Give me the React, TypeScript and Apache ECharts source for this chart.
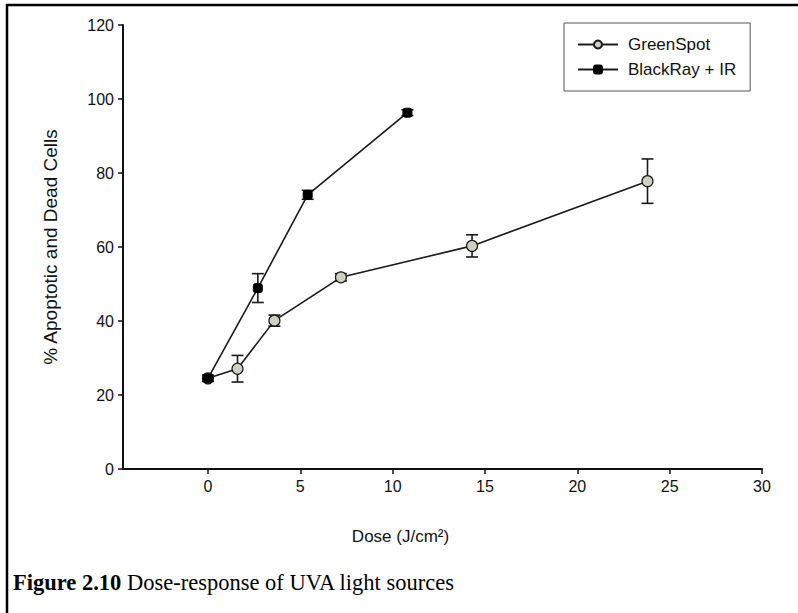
import React, { useEffect, useRef } from "react";
import * as echarts from "echarts";

const greenDose = [0, 1.6, 3.6, 7.2, 14.3, 23.8];
const greenPct = [24.5, 27.1, 40.1, 51.8, 60.3, 77.8];
const greenErr = [0.8, 3.6, 1.5, 1.0, 3.0, 6.0];

const blackDose = [0, 2.7, 5.4, 10.8];
const blackPct = [24.5, 48.9, 74.1, 96.3];
const blackErr = [0.8, 3.9, 1.2, 0.8];

const xTicks = [0, 5, 10, 15, 20, 25, 30];
const seriesNames = ["GreenSpot", "BlackRay + IR"];

const SANS = "'Liberation Sans', Arial, sans-serif";
const SERIF = "'Liberation Serif', 'Times New Roman', serif";

function errRender(params: any, api: any) {
  const x = api.value(0);
  const y = api.value(1);
  const e = api.value(2);
  const top = api.coord([x, y + e]);
  const bot = api.coord([x, y - e]);
  const hw = 6;
  const style = { stroke: "#1a1a1a", lineWidth: 1.6 };
  return {
    type: "group",
    children: [
      { type: "line", shape: { x1: top[0], y1: top[1], x2: bot[0], y2: bot[1] }, style },
      { type: "line", shape: { x1: top[0] - hw, y1: top[1], x2: top[0] + hw, y2: top[1] }, style },
      { type: "line", shape: { x1: bot[0] - hw, y1: bot[1], x2: bot[0] + hw, y2: bot[1] }, style },
    ],
  };
}

export default function App() {
  const ref = useRef<HTMLDivElement>(null);
  useEffect(() => {
    if (!ref.current) return;
    const chart = echarts.init(ref.current, undefined, { renderer: "svg" });
    const green = greenDose.map((d, i) => [d, greenPct[i]]);
    const black = blackDose.map((d, i) => [d, blackPct[i]]);
    const greenE = greenDose.map((d, i) => [d, greenPct[i], greenErr[i]]);
    const blackE = blackDose.map((d, i) => [d, blackPct[i], blackErr[i]]);
    chart.setOption({
      animation: false,
      backgroundColor: "#ffffff",
      grid: { left: 123, right: 36, top: 25, bottom: 144 },
      legend: {
        data: seriesNames,
        orient: "vertical",
        left: 564,
        top: 23,
        itemWidth: 40,
        itemHeight: 10,
        itemGap: 8,
        padding: [13, 14, 13, 13],
        borderColor: "#555",
        borderWidth: 1,
        textStyle: { fontSize: 17, fontFamily: SANS, color: "#111", padding: [0, 0, 0, 5] },
      },
      xAxis: {
        type: "value",
        min: -4.6,
        max: 30,
        name: "Dose (J/cm²)",
        nameLocation: "middle",
        nameGap: 59,
        nameTextStyle: { fontSize: 17, fontFamily: SANS, color: "#111", padding: [0, 84, 0, 0] },
        axisLine: { onZero: false, lineStyle: { color: "#111", width: 2 } },
        axisTick: { show: true, length: 5, customValues: xTicks, lineStyle: { color: "#111", width: 1.5 } },
        axisLabel: { customValues: xTicks, fontSize: 16, fontFamily: SANS, color: "#111", margin: 9 },
        splitLine: { show: false },
      },
      yAxis: {
        type: "value",
        min: 0,
        max: 120,
        interval: 20,
        name: "% Apoptotic and Dead Cells",
        nameLocation: "middle",
        nameGap: 63,
        nameTextStyle: { fontSize: 19, fontFamily: SANS, color: "#111" },
        axisLine: { show: true, onZero: false, lineStyle: { color: "#111", width: 2 } },
        axisTick: { show: true, length: 5, lineStyle: { color: "#111", width: 1.5 } },
        axisLabel: { fontSize: 16, fontFamily: SANS, color: "#111", margin: 9 },
        splitLine: { show: false },
      },
      series: [
        {
          type: "custom",
          renderItem: errRender,
          data: greenE,
          z: 1,
          silent: true,
        },
        {
          type: "custom",
          renderItem: errRender,
          data: blackE,
          z: 1,
          silent: true,
        },
        {
          name: seriesNames[0],
          type: "line",
          data: green,
          symbol: "circle",
          symbolSize: 11,
          z: 3,
          lineStyle: { color: "#1a1a1a", width: 1.6 },
          itemStyle: { color: "#cfd0c2", borderColor: "#1a1a1a", borderWidth: 1.2 },
        },
        {
          name: seriesNames[1],
          type: "line",
          data: black,
          symbol: "roundRect",
          symbolSize: 9,
          z: 4,
          lineStyle: { color: "#1a1a1a", width: 1.6 },
          itemStyle: { color: "#000000", borderColor: "#000", borderWidth: 1 },
        },
      ],
      graphic: [
        {
          type: "polyline",
          shape: { points: [[7, 620], [7, 5], [800, 5]] },
          style: { stroke: "#000", lineWidth: 2.5, fill: null },
        },
        {
          type: "text",
          left: 13,
          top: 571,
          style: {
            text: "{b|Figure 2.10} Dose-response of UVA light sources",
            fontSize: 22.5,
            fontFamily: SERIF,
            fill: "#000",
            rich: {
              b: { fontSize: 22.5, fontFamily: SERIF, fontWeight: "bold", fill: "#000" },
            },
          },
        },
      ],
    });
    return () => chart.dispose();
  }, []);
  return (
    <div
      ref={ref}
      style={{ position: "absolute", left: 0, top: 0, width: 798, height: 613 }}
    />
  );
}
